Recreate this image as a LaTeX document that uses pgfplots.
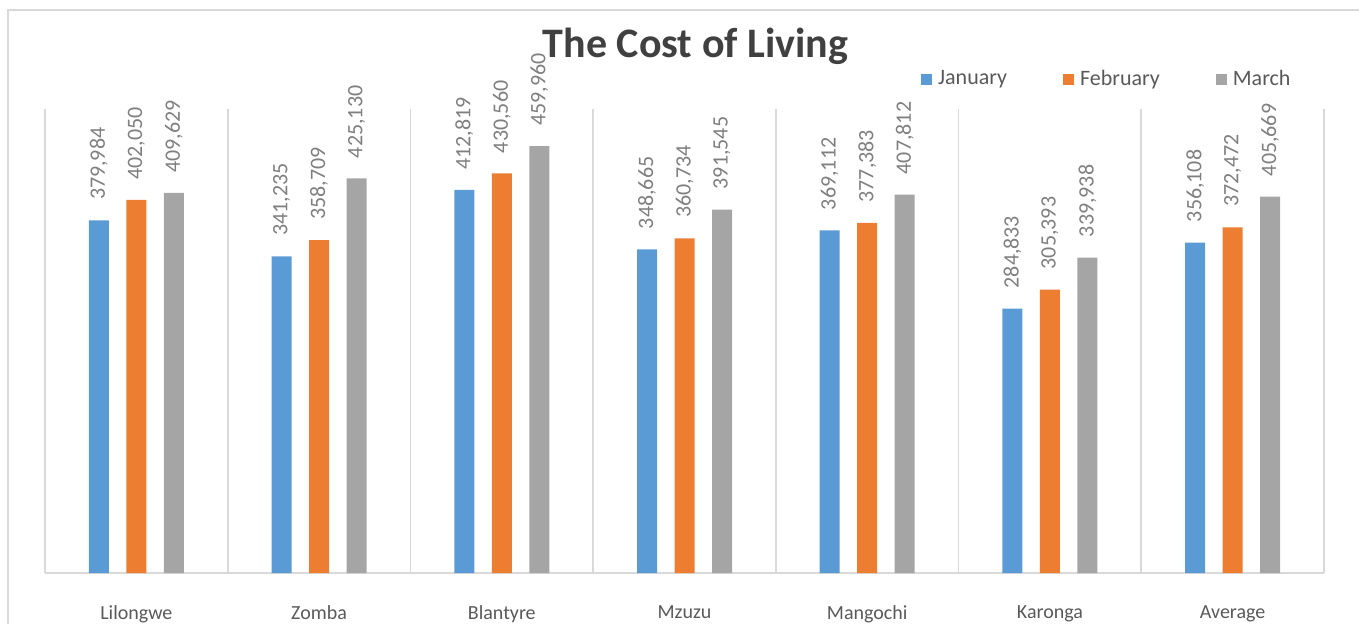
\documentclass[border=0pt]{standalone}
\usepackage{fontspec}
\setmainfont{Carlito}
\usepackage{pgfplots}
\pgfplotsset{compat=1.18}
\definecolor{jan}{HTML}{5B9BD5}
\definecolor{feb}{HTML}{ED7D31}
\definecolor{mar}{HTML}{A5A5A5}
\definecolor{gridgray}{HTML}{D9D9D9}
\definecolor{labgray}{HTML}{595959}
\definecolor{valgray}{HTML}{7F7F7F}
\definecolor{titlegray}{HTML}{404040}
\pgfplotstableread{
x jan feb mar
0 379984 402050 409629
1 341235 358709 425130
2 412819 430560 459960
3 348665 360734 391545
4 369112 377383 407812
5 284833 305393 339938
6 356108 372472 405669
}\costdata
\begin{document}
\begin{tikzpicture}
\useasboundingbox (0,0) rectangle (679.5pt,311.5pt);
\clip (0,0) rectangle (679.5pt,311.5pt);
\draw[gridgray, line width=0.8pt] (4pt,-20pt) -- (4pt,306.5pt) -- (700pt,306.5pt);
\pgfplotsset{myleg/.style={legend image code/.code={\fill[##1,draw=none] (0pt,-2.75pt) rectangle (5.5pt,2.75pt);}}}
\begin{axis}[
  at={(22.5pt,25pt)}, anchor=south west,
  scale only axis, width=639.5pt, height=232pt,
  ybar, bar width=10pt,
  xmin=-0.5, xmax=6.5, ymin=0, ymax=500000,
  scaled y ticks=false,
  xtick={0,1,2,3,4,5,6},
  xticklabels={Lilongwe,Zomba,Blantyre,Mzuzu,Mangochi,Karonga,Average},
  minor xtick={-0.5,0.5,1.5,2.5,3.5,4.5,5.5,6.5},
  xminorgrids=true,
  minor x grid style={draw=gridgray, line width=0.8pt},
  major tick length=0pt, minor tick length=0pt,
  ytick={0}, yticklabels={},
  ymajorgrids=true,
  major y grid style={draw=gridgray, line width=0.8pt},
  axis line style={draw=none},
  tick style={draw=none},
  xticklabel style={font=\fontsize{10}{12}\selectfont, text=labgray, yshift=-13pt},
  point meta=y,
  nodes near coords={\pgfmathprintnumber[assume math mode=true,fixed,precision=0,1000 sep={,}]{\pgfplotspointmeta}},
  every node near coord/.append style={rotate=90, anchor=west, font=\fontsize{11}{12}\selectfont, text=valgray, inner xsep=10pt, inner ysep=0pt},
  legend columns=3,
  legend style={draw=none, fill=none, at={(axis description cs:0.831,1.064)}, anchor=center,
    font=\fontsize{11}{13}\selectfont, text=labgray,
    /tikz/every even column/.append style={column sep=26pt},
    /tikz/every odd column/.append style={column sep=1pt}},
]
\addplot[fill=jan, draw=none, bar shift=-18.75pt, myleg] table[x=x, y=jan] {\costdata};
\addplot[fill=feb, draw=none, bar shift=0pt, myleg] table[x=x, y=feb] {\costdata};
\addplot[fill=mar, draw=none, bar shift=18.75pt, myleg] table[x=x, y=mar] {\costdata};
\legend{January, February, March}
\end{axis}
\node[anchor=base, font=\fontsize{21}{25}\selectfont\bfseries, text=titlegray] at (347.75pt,283pt) {The Cost of Living};
\end{tikzpicture}
\end{document}
